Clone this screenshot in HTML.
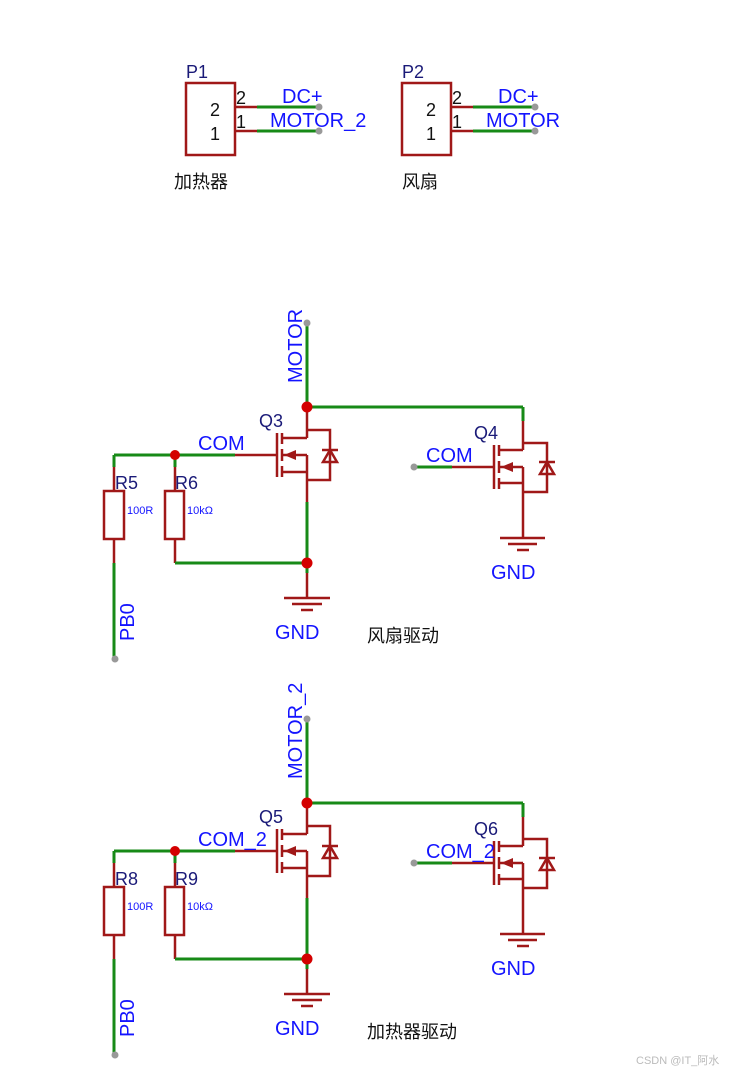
<!DOCTYPE html>
<html><head><meta charset="utf-8"><style>
html,body{margin:0;padding:0;background:#fff;}
svg{display:block;}
text{font-family:"Liberation Sans","Noto Sans CJK SC",sans-serif;}
.g{stroke:#178a17;stroke-width:3;fill:none;}
.r{stroke:#a01818;stroke-width:2.5;fill:none;}
.b{fill:#1414ff;font-size:20px;}
.n{fill:#1a1a78;font-size:18px;}
.k{fill:#111;font-size:18px;}
.s{fill:#1414ff;font-size:11px;}
.c{fill:#111;font-size:18px;font-family:"Noto Sans CJK SC",sans-serif;}
</style></head><body>
<svg width="737" height="1073" viewBox="0 0 737 1073" xmlns="http://www.w3.org/2000/svg">
<!-- P1 -->
<rect x="186" y="83" width="49" height="72" class="r"/>
<line x1="235" y1="107" x2="257" y2="107" class="r"/><line x1="257" y1="107" x2="319" y2="107" class="g"/>
<line x1="235" y1="131" x2="257" y2="131" class="r"/><line x1="257" y1="131" x2="319" y2="131" class="g"/>
<circle cx="319" cy="107" r="3.5" fill="#999"/><circle cx="319" cy="131" r="3.5" fill="#999"/>
<text x="186" y="78" class="n">P1</text>
<text x="210" y="116" class="k">2</text><text x="210" y="140" class="k">1</text>
<text x="236" y="104" class="k">2</text><text x="236" y="128" class="k">1</text>
<text x="282" y="103" class="b">DC+</text><text x="270" y="127" class="b">MOTOR_2</text>
<text x="174" y="188" class="c">加热器</text>
<!-- P2 -->
<rect x="402" y="83" width="49" height="72" class="r"/>
<line x1="451" y1="107" x2="473" y2="107" class="r"/><line x1="473" y1="107" x2="535" y2="107" class="g"/>
<line x1="451" y1="131" x2="473" y2="131" class="r"/><line x1="473" y1="131" x2="535" y2="131" class="g"/>
<circle cx="535" cy="107" r="3.5" fill="#999"/><circle cx="535" cy="131" r="3.5" fill="#999"/>
<text x="402" y="78" class="n">P2</text>
<text x="426" y="116" class="k">2</text><text x="426" y="140" class="k">1</text>
<text x="452" y="104" class="k">2</text><text x="452" y="128" class="k">1</text>
<text x="498" y="103" class="b">DC+</text><text x="486" y="127" class="b">MOTOR</text>
<text x="402" y="188" class="c">风扇</text>

<defs>
<g id="ckt">
 <line x1="307" y1="323" x2="307" y2="410" class="g"/>
 <line x1="307" y1="407" x2="523" y2="407" class="g"/>
 <line x1="523" y1="407" x2="523" y2="421" class="g"/>
 <circle cx="307" cy="323" r="3.5" fill="#999"/>
 <line x1="307" y1="410" x2="307" y2="438" class="r"/>
 <line x1="282" y1="438" x2="307" y2="438" class="r"/>
 <polyline points="307,430 330,430 330,480 307,480" class="r"/>
 <polygon points="330,450 323,462 337,462" fill="none" stroke="#a01818" stroke-width="2.5"/>
 <line x1="322" y1="450" x2="338" y2="450" class="r"/>
 <line x1="277" y1="433" x2="277" y2="477" class="r"/>
 <line x1="282" y1="433" x2="282" y2="444" class="r"/>
 <line x1="282" y1="449" x2="282" y2="461" class="r"/>
 <line x1="282" y1="466" x2="282" y2="477" class="r"/>
 <line x1="282" y1="455" x2="307" y2="455" class="r"/>
 <polygon points="284,455 296,450 296,460" fill="#a01818"/>
 <line x1="282" y1="472" x2="307" y2="472" class="r"/>
 <line x1="307" y1="455" x2="307" y2="502" class="r"/>
 <line x1="307" y1="502" x2="307" y2="573" class="g"/>
 <line x1="307" y1="573" x2="307" y2="598" class="r"/>
 <line x1="284" y1="598" x2="330" y2="598" class="r"/>
 <line x1="292" y1="604" x2="322" y2="604" class="r"/>
 <line x1="301" y1="610" x2="313" y2="610" class="r"/>
 <line x1="114" y1="455" x2="235" y2="455" class="g"/>
 <line x1="235" y1="455" x2="277" y2="455" class="r"/>
 <line x1="114" y1="455" x2="114" y2="467" class="g"/>
 <line x1="114" y1="467" x2="114" y2="491" class="r"/>
 <rect x="104" y="491" width="20" height="48" class="r"/>
 <line x1="114" y1="539" x2="114" y2="563" class="r"/>
 <line x1="114" y1="563" x2="114" y2="659" class="g"/>
 <circle cx="115" cy="659" r="3.5" fill="#999"/>
 <line x1="175" y1="455" x2="175" y2="467" class="g"/>
 <line x1="175" y1="467" x2="175" y2="491" class="r"/>
 <rect x="165" y="491" width="19" height="48" class="r"/>
 <line x1="175" y1="539" x2="175" y2="563" class="r"/>
 <line x1="175" y1="563" x2="307" y2="563" class="g"/>
 <circle cx="175" cy="455" r="5" fill="#d40000"/>
 <circle cx="307" cy="563" r="5.5" fill="#d40000"/>
 <circle cx="307" cy="407" r="5.5" fill="#d40000"/>
 <line x1="523" y1="421" x2="523" y2="450" class="r"/>
 <line x1="499" y1="450" x2="523" y2="450" class="r"/>
 <polyline points="523,443 547,443 547,492 523,492" class="r"/>
 <polygon points="547,462 540,474 554,474" fill="none" stroke="#a01818" stroke-width="2.5"/>
 <line x1="539" y1="462" x2="555" y2="462" class="r"/>
 <line x1="494" y1="445" x2="494" y2="489" class="r"/>
 <line x1="499" y1="445" x2="499" y2="456" class="r"/>
 <line x1="499" y1="461" x2="499" y2="473" class="r"/>
 <line x1="499" y1="478" x2="499" y2="489" class="r"/>
 <line x1="499" y1="467" x2="523" y2="467" class="r"/>
 <polygon points="501,467 513,462 513,472" fill="#a01818"/>
 <line x1="499" y1="483" x2="523" y2="483" class="r"/>
 <line x1="523" y1="467" x2="523" y2="538" class="r"/>
 <line x1="500" y1="538" x2="545" y2="538" class="r"/>
 <line x1="508" y1="544" x2="537" y2="544" class="r"/>
 <line x1="517" y1="550" x2="529" y2="550" class="r"/>
 <line x1="414" y1="467" x2="452" y2="467" class="g"/>
 <line x1="452" y1="467" x2="494" y2="467" class="r"/>
 <circle cx="414" cy="467" r="3.5" fill="#999"/>
 <text x="127" y="514" class="s">100R</text>
 <text x="187" y="514" class="s">10kΩ</text>
 <text x="275" y="639" class="b">GND</text>
 <text x="491" y="579" class="b">GND</text>
</g>
</defs>
<use href="#ckt"/>
<use href="#ckt" transform="translate(0,396)"/>

<text x="259" y="427" class="n">Q3</text>
<text x="474" y="439" class="n">Q4</text>
<text x="115" y="489" class="n">R5</text>
<text x="175" y="489" class="n">R6</text>
<text class="b" transform="translate(302,383) rotate(-90)">MOTOR</text>
<text class="b" transform="translate(134,641) rotate(-90)">PB0</text>
<text x="198" y="450" class="b">COM</text>
<text x="426" y="462" class="b">COM</text>
<text x="367" y="642" class="c">风扇驱动</text>

<text x="259" y="823" class="n">Q5</text>
<text x="474" y="835" class="n">Q6</text>
<text x="115" y="885" class="n">R8</text>
<text x="175" y="885" class="n">R9</text>
<text class="b" transform="translate(302,779) rotate(-90)">MOTOR_2</text>
<text class="b" transform="translate(134,1037) rotate(-90)">PB0</text>
<text x="198" y="846" class="b">COM_2</text>
<text x="426" y="858" class="b">COM_2</text>
<text x="367" y="1038" class="c">加热器驱动</text>
<text x="636" y="1064" style="fill:#bbb;font-size:11px;">CSDN @IT_阿水</text>
</svg>
</body></html>
